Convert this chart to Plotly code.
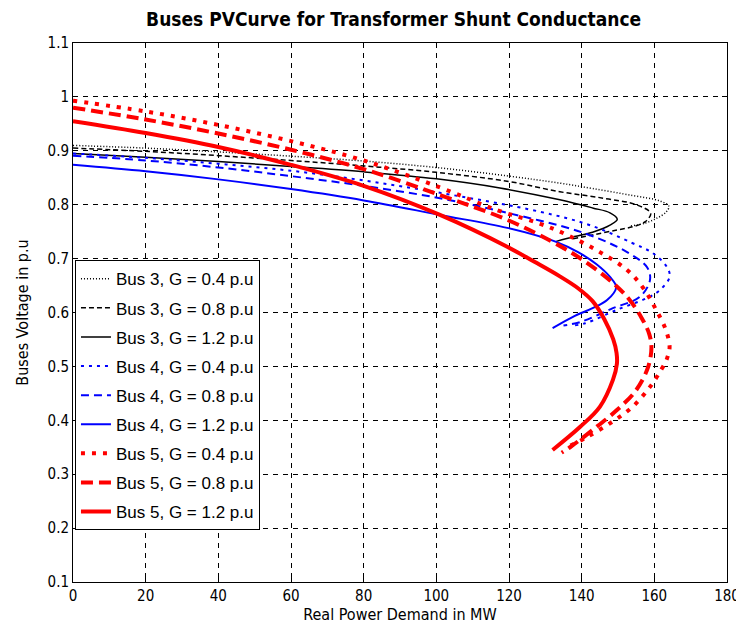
import plotly.graph_objects as go

# ---- data (x: MW, y: p.u.) ----
b3_g04_x = [0, 20, 40, 60, 80, 100, 120, 134, 143, 154, 161.5, 164, 163.2, 160.7, 157.5, 153]
b3_g04_y = [0.91, 0.905, 0.898, 0.89, 0.881, 0.869, 0.853, 0.84, 0.83, 0.817, 0.807, 0.797, 0.786, 0.775, 0.766, 0.76]

b3_g08_x = [0, 20, 40, 60, 80, 100, 120, 134, 146, 155, 159, 157.4, 154, 149.7, 143, 137]
b3_g08_y = [0.905, 0.899, 0.891, 0.882, 0.872, 0.86, 0.843, 0.824, 0.812, 0.80, 0.784, 0.768, 0.759, 0.753, 0.744, 0.736]

b3_g12_x = [0, 20, 40, 60, 80, 100, 117.5, 134, 143, 147.8, 149.8, 147.8, 143, 138, 133]
b3_g12_y = [0.895, 0.888, 0.88, 0.871, 0.861, 0.848, 0.831, 0.809, 0.794, 0.785, 0.773, 0.762, 0.749, 0.741, 0.732]

b4_g04_x = [0, 20, 40, 60, 80, 101, 128.5, 142.3, 153.9, 159.6, 163.5, 164.2, 161.6, 158, 149.7, 141, 138]
b4_g04_y = [0.895, 0.887, 0.876, 0.863, 0.845, 0.822, 0.787, 0.762, 0.729, 0.71, 0.684, 0.666, 0.642, 0.627, 0.605, 0.58, 0.576]

b4_g08_x = [0, 20, 40, 60, 80, 101, 119.5, 140.4, 152.5, 158, 158.8, 156, 148.6, 139.5, 135]
b4_g08_y = [0.891, 0.882, 0.869, 0.853, 0.835, 0.812, 0.785, 0.748, 0.712, 0.684, 0.66, 0.629, 0.608, 0.582, 0.576]

b4_g12_x = [0, 20, 40, 60, 80, 101, 119.5, 133, 139, 144, 147.8, 149.5, 147, 143, 137.6, 132]
b4_g12_y = [0.874, 0.862, 0.847, 0.829, 0.808, 0.781, 0.757, 0.731, 0.712, 0.69, 0.666, 0.647, 0.623, 0.608, 0.592, 0.571]

b5_g04_x = [0, 20, 40, 60, 80, 101, 116.7, 128, 136, 145, 152.5, 157, 160.5, 163.2, 164.2, 163.5, 162, 158.8, 154, 148.6, 141.5, 136]
b5_g04_y = [0.993, 0.973, 0.948, 0.918, 0.882, 0.832, 0.79, 0.766, 0.744, 0.712, 0.679, 0.645, 0.605, 0.567, 0.536, 0.515, 0.495, 0.462, 0.425, 0.398, 0.369, 0.35]

b5_g08_x = [0, 20, 40, 60, 80, 101, 119.5, 132, 140.4, 148.6, 153, 156.5, 158.6, 159.2, 158.3, 155, 149.7, 143, 136.8, 134.5]
b5_g08_y = [0.98, 0.958, 0.932, 0.902, 0.866, 0.818, 0.772, 0.731, 0.697, 0.655, 0.625, 0.59, 0.56, 0.535, 0.499, 0.456, 0.419, 0.382, 0.35, 0.34]

b5_g12_x = [0, 20, 40, 60, 80, 101, 119.5, 127, 134, 139, 143, 146.2, 148.7, 149.6, 149.7, 148.6, 145, 139.6, 132]
b5_g12_y = [0.955, 0.933, 0.907, 0.874, 0.835, 0.781, 0.722, 0.694, 0.667, 0.645, 0.621, 0.588, 0.55, 0.525, 0.505, 0.475, 0.425, 0.388, 0.345]

x_ticks = [0, 20, 40, 60, 80, 100, 120, 140, 160, 180]
y_ticks = [0.1, 0.2, 0.3, 0.4, 0.5, 0.6, 0.7, 0.8, 0.9, 1.0, 1.1]
y_tick_labels = ["0.1", "0.2", "0.3", "0.4", "0.5", "0.6", "0.7", "0.8", "0.9", "1", "1.1"]

series = [
    ("Bus 3, G = 0.4 p.u", b3_g04_x, b3_g04_y, "black", 1.5, "1px,2px"),
    ("Bus 3, G = 0.8 p.u", b3_g08_x, b3_g08_y, "black", 1.5, "5px,3px"),
    ("Bus 3, G = 1.2 p.u", b3_g12_x, b3_g12_y, "black", 1.5, "solid"),
    ("Bus 4, G = 0.4 p.u", b4_g04_x, b4_g04_y, "#0000ff", 2, "3px,5px"),
    ("Bus 4, G = 0.8 p.u", b4_g08_x, b4_g08_y, "#0000ff", 2, "8px,5px"),
    ("Bus 4, G = 1.2 p.u", b4_g12_x, b4_g12_y, "#0000ff", 2, "solid"),
    ("Bus 5, G = 0.4 p.u", b5_g04_x, b5_g04_y, "#ff0000", 4, "4px,7px"),
    ("Bus 5, G = 0.8 p.u", b5_g08_x, b5_g08_y, "#ff0000", 4, "12px,6px"),
    ("Bus 5, G = 1.2 p.u", b5_g12_x, b5_g12_y, "#ff0000", 4, "solid"),
]

FONT = "Liberation Sans Narrow, DejaVu Sans Condensed, Liberation Sans, Arial, sans-serif"

fig = go.Figure()
for i, (name, xs, ys, color, width, dash) in enumerate(series):
    fig.add_trace(go.Scatter(
        x=xs, y=ys, mode="lines", name=name, legendgroup=f"g{i}",
        line=dict(color=color, width=width, dash=dash, shape="spline", smoothing=1.0),
    ))

axis_common = dict(
    showline=True, linecolor="black", linewidth=1, mirror="ticks",
    ticks="inside", ticklen=5, tickcolor="black",
    showgrid=True, gridcolor="black", gridwidth=1, griddash="5px,5px",
    zeroline=False, automargin=False,
    tickfont=dict(family=FONT, size=15, color="black"),
)

# page body adds an 8px offset, so the figure is sized 736x631
fig.update_layout(
    width=736, height=631,
    margin=dict(l=65, r=17, t=35, b=57),
    paper_bgcolor="white", plot_bgcolor="white",
    title=dict(text="<b>Buses PVCurve for Transformer Shunt Conductance</b>",
               x=0.524, xanchor="center", y=0.993, yref="container", yanchor="top",
               font=dict(family=FONT, size=19, color="black")),
    xaxis=dict(range=[0, 180], tickvals=x_ticks,
               title=dict(text="Real Power Demand in MW", standoff=4,
                          font=dict(family=FONT, size=16, color="black")),
               **axis_common),
    yaxis=dict(range=[0.1, 1.1], tickvals=y_ticks, ticktext=y_tick_labels,
               title=dict(text="Buses Voltage in p.u", standoff=14,
                          font=dict(family=FONT, size=16, color="black")),
               **axis_common),
    legend=dict(x=0.003, y=0.597, xanchor="left", yanchor="top",
                bgcolor="white", bordercolor="black", borderwidth=1,
                tracegroupgap=4,
                font=dict(family="Liberation Sans, Arial, sans-serif", size=17, color="black")),
    showlegend=True,
)

fig.write_html("out.html")
